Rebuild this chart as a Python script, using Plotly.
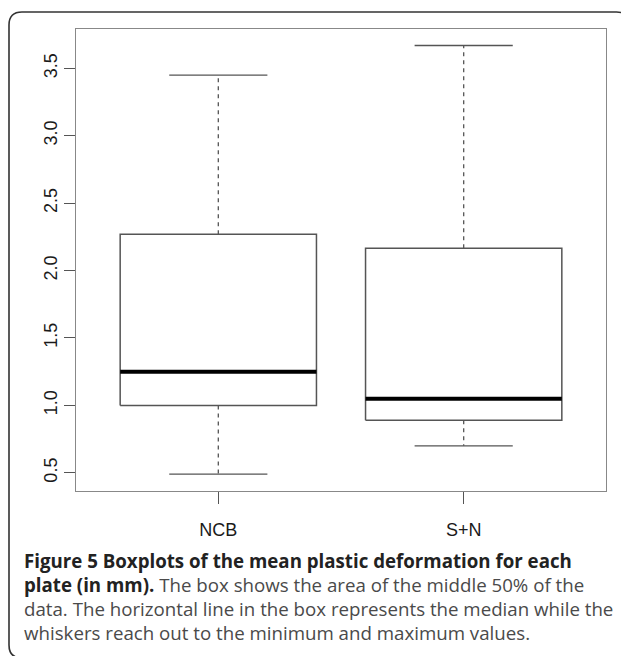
import plotly.graph_objects as go

# ---- data ----
categories = ["NCB", "S+N"]
minimum = [0.49, 0.70]
q1 = [1.00, 0.89]
median = [1.25, 1.05]
q3 = [2.27, 2.165]
maximum = [3.45, 3.67]
y_ticks = [0.5, 1.0, 1.5, 2.0, 2.5, 3.0, 3.5]

caption_lines = [
    "<b><span style='color:#222222'>Figure 5 Boxplots of the mean plastic deformation for each</span></b>",
    "<b><span style='color:#222222'>plate (in mm).</span></b> The box shows the area of the middle 50% of the",
    "data. The horizontal line in the box represents the median while the",
    "whiskers reach out to the minimum and maximum values.",
]

OFF = 8  # default page body margin
W, H = 629 - OFF, 656 - OFF
L, R, T, B = 76 - OFF, 606 - OFF, 29 - OFF, 491 - OFF  # plot area in figure px


def px_x(p):
    """page px -> paper x"""
    return (p - OFF - L) / (R - L)


def px_y(p):
    """page px -> paper y"""
    return (B - (p - OFF)) / (B - T)


BOX_HALF = 0.4
CAP_HALF = 0.2
box_col = "#555555"

fig = go.Figure()
for i, cat in enumerate(categories):
    x = i + 1
    fig.add_trace(go.Scatter(
        x=[x, x, None, x, x],
        y=[q3[i], maximum[i], None, q1[i], minimum[i]],
        mode="lines", line=dict(color=box_col, width=1.3, dash="4px,4px"),
        hoverinfo="skip", showlegend=False))
    fig.add_trace(go.Scatter(
        x=[x - CAP_HALF, x + CAP_HALF, None, x - CAP_HALF, x + CAP_HALF],
        y=[maximum[i], maximum[i], None, minimum[i], minimum[i]],
        mode="lines", line=dict(color=box_col, width=1.4),
        hoverinfo="skip", showlegend=False))
    fig.add_trace(go.Scatter(
        x=[x - BOX_HALF, x + BOX_HALF, x + BOX_HALF, x - BOX_HALF, x - BOX_HALF],
        y=[q1[i], q1[i], q3[i], q3[i], q1[i]],
        mode="lines", line=dict(color=box_col, width=1.5),
        fill="toself", fillcolor="white",
        hoverinfo="skip", showlegend=False))
    fig.add_trace(go.Scatter(
        x=[x - BOX_HALF, x + BOX_HALF],
        y=[median[i], median[i]],
        mode="lines", line=dict(color="black", width=4),
        hoverinfo="skip", showlegend=False))

tickfont = dict(family="Liberation Sans, Arial, sans-serif", size=18, color="#1a1a1a")

fig.update_xaxes(
    range=[0.42, 2.58], tickvals=[1, 2], ticktext=categories,
    ticks="outside", ticklen=12, tickcolor="#555555", tickwidth=1.3,
    showline=True, mirror=True, linecolor="#888888", linewidth=1.2,
    showgrid=False, zeroline=False, tickfont=tickfont, ticklabelstandoff=10)
fig.update_yaxes(
    range=[0.365, 3.792], tickvals=y_ticks, ticktext=[f"{v:.1f}" for v in y_ticks],
    ticks="outside", ticklen=11, tickcolor="#555555", tickwidth=1.3,
    showline=True, mirror=True, linecolor="#888888", linewidth=1.2,
    showgrid=False, zeroline=False, tickfont=tickfont, tickangle=-90)

# outer rounded frame (page px); right and bottom edges fall just outside the view
x0, y0, x1, y1, r = 9, 12, 629.5, 658, 13
pts = [
    ("M", (x0 + r, y0)), ("L", (x1 - r, y0)), ("Q", (x1, y0), (x1, y0 + r)),
    ("L", (x1, y1 - r)), ("Q", (x1, y1), (x1 - r, y1)), ("L", (x0 + r, y1)),
    ("Q", (x0, y1), (x0, y1 - r)), ("L", (x0, y0 + r)), ("Q", (x0, y0), (x0 + r, y0)),
]
path = ""
for item in pts:
    cmd = item[0]
    coords = " ".join(f"{px_x(p[0]):.5f},{px_y(p[1]):.5f}" for p in item[1:])
    path += f"{cmd} {coords} "
path += "Z"
fig.add_shape(type="path", path=path, xref="paper", yref="paper",
              line=dict(color="#333333", width=1.6), fillcolor="rgba(0,0,0,0)",
              layer="below")

baselines = [566, 590, 614, 638]
for line, bl in zip(caption_lines, baselines):
    fig.add_annotation(
        text=line, xref="paper", yref="paper",
        x=px_x(22), y=px_y(bl - 6), xanchor="left", yanchor="middle",
        showarrow=False, align="left",
        font=dict(family="Open Sans, sans-serif", size=18.7, color="#4a4a4a"))

fig.update_layout(
    width=W, height=H,
    margin=dict(l=L, r=W - R, t=T, b=H - B),
    paper_bgcolor="white", plot_bgcolor="white",
    showlegend=False)

fig.write_html("out.html")
